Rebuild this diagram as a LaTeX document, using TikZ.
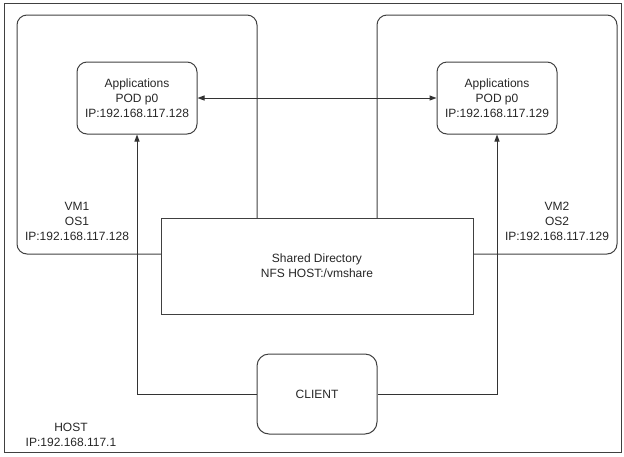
\documentclass[tikz,border=0pt]{standalone}
\usepackage{fontspec}
\setmainfont{Liberation Sans}
\usetikzlibrary{arrows.meta}
\tikzset{
  box/.style={draw=black!75, line width=1pt, rounded corners=10pt, inner sep=0pt},
  sharedbox/.style={draw=black!75, line width=1pt, fill=white, inner sep=0pt},
  lbl/.style={align=center, font=\fontsize{12}{15}\selectfont, text=black!85},
  conn/.style={draw=black!80, line width=1pt, -{Triangle[length=7pt,width=5pt]}}
}
\begin{document}
\begin{tikzpicture}[x=1pt, y=-1pt]
  \useasboundingbox (0,0) rectangle (624,456);
  % host
  \draw[black!75, line width=1pt] (4,3) rectangle (621,452);
  \node [lbl] (hostlbl) at (71,435) {HOST\\IP:192.168.117.1};
  % the two virtual machines
  \node [box, minimum width=240pt, minimum height=239pt] (vm1) at (137,134.5) {};
  \node [box, minimum width=240pt, minimum height=239pt] (vm2) at (497,134.5) {};
  \node [lbl] (vm1lbl) at (77,221) {VM1\\OS1\\IP:192.168.117.128};
  \node [lbl] (vm2lbl) at (557,221) {VM2\\OS2\\IP:192.168.117.129};
  % shared folder on the host
  \node [sharedbox, lbl, minimum width=312pt, minimum height=96pt] (shared) at (317,266)
    {Shared Directory\\NFS HOST:/vmshare};
  % pods
  \node [box, lbl, minimum width=120pt, minimum height=72pt] (pod1) at (137,98)
    {Applications\\POD p0\\IP:192.168.117.128};
  \node [box, lbl, minimum width=120pt, minimum height=72pt] (pod2) at (497,98)
    {Applications\\POD p0\\IP:192.168.117.129};
  \node [box, lbl, rounded corners=12pt, minimum width=120pt, minimum height=80pt] (client) at (317,394)
    {CLIENT};
  % connectors
  \draw [conn, {Triangle[length=7pt,width=5pt]}-{Triangle[length=7pt,width=5pt]}] (pod1) -- (pod2);
  \draw [conn] (client.west) -| (pod1.south);
  \draw [conn] (client.east) -| (pod2.south);
\end{tikzpicture}
\end{document}
